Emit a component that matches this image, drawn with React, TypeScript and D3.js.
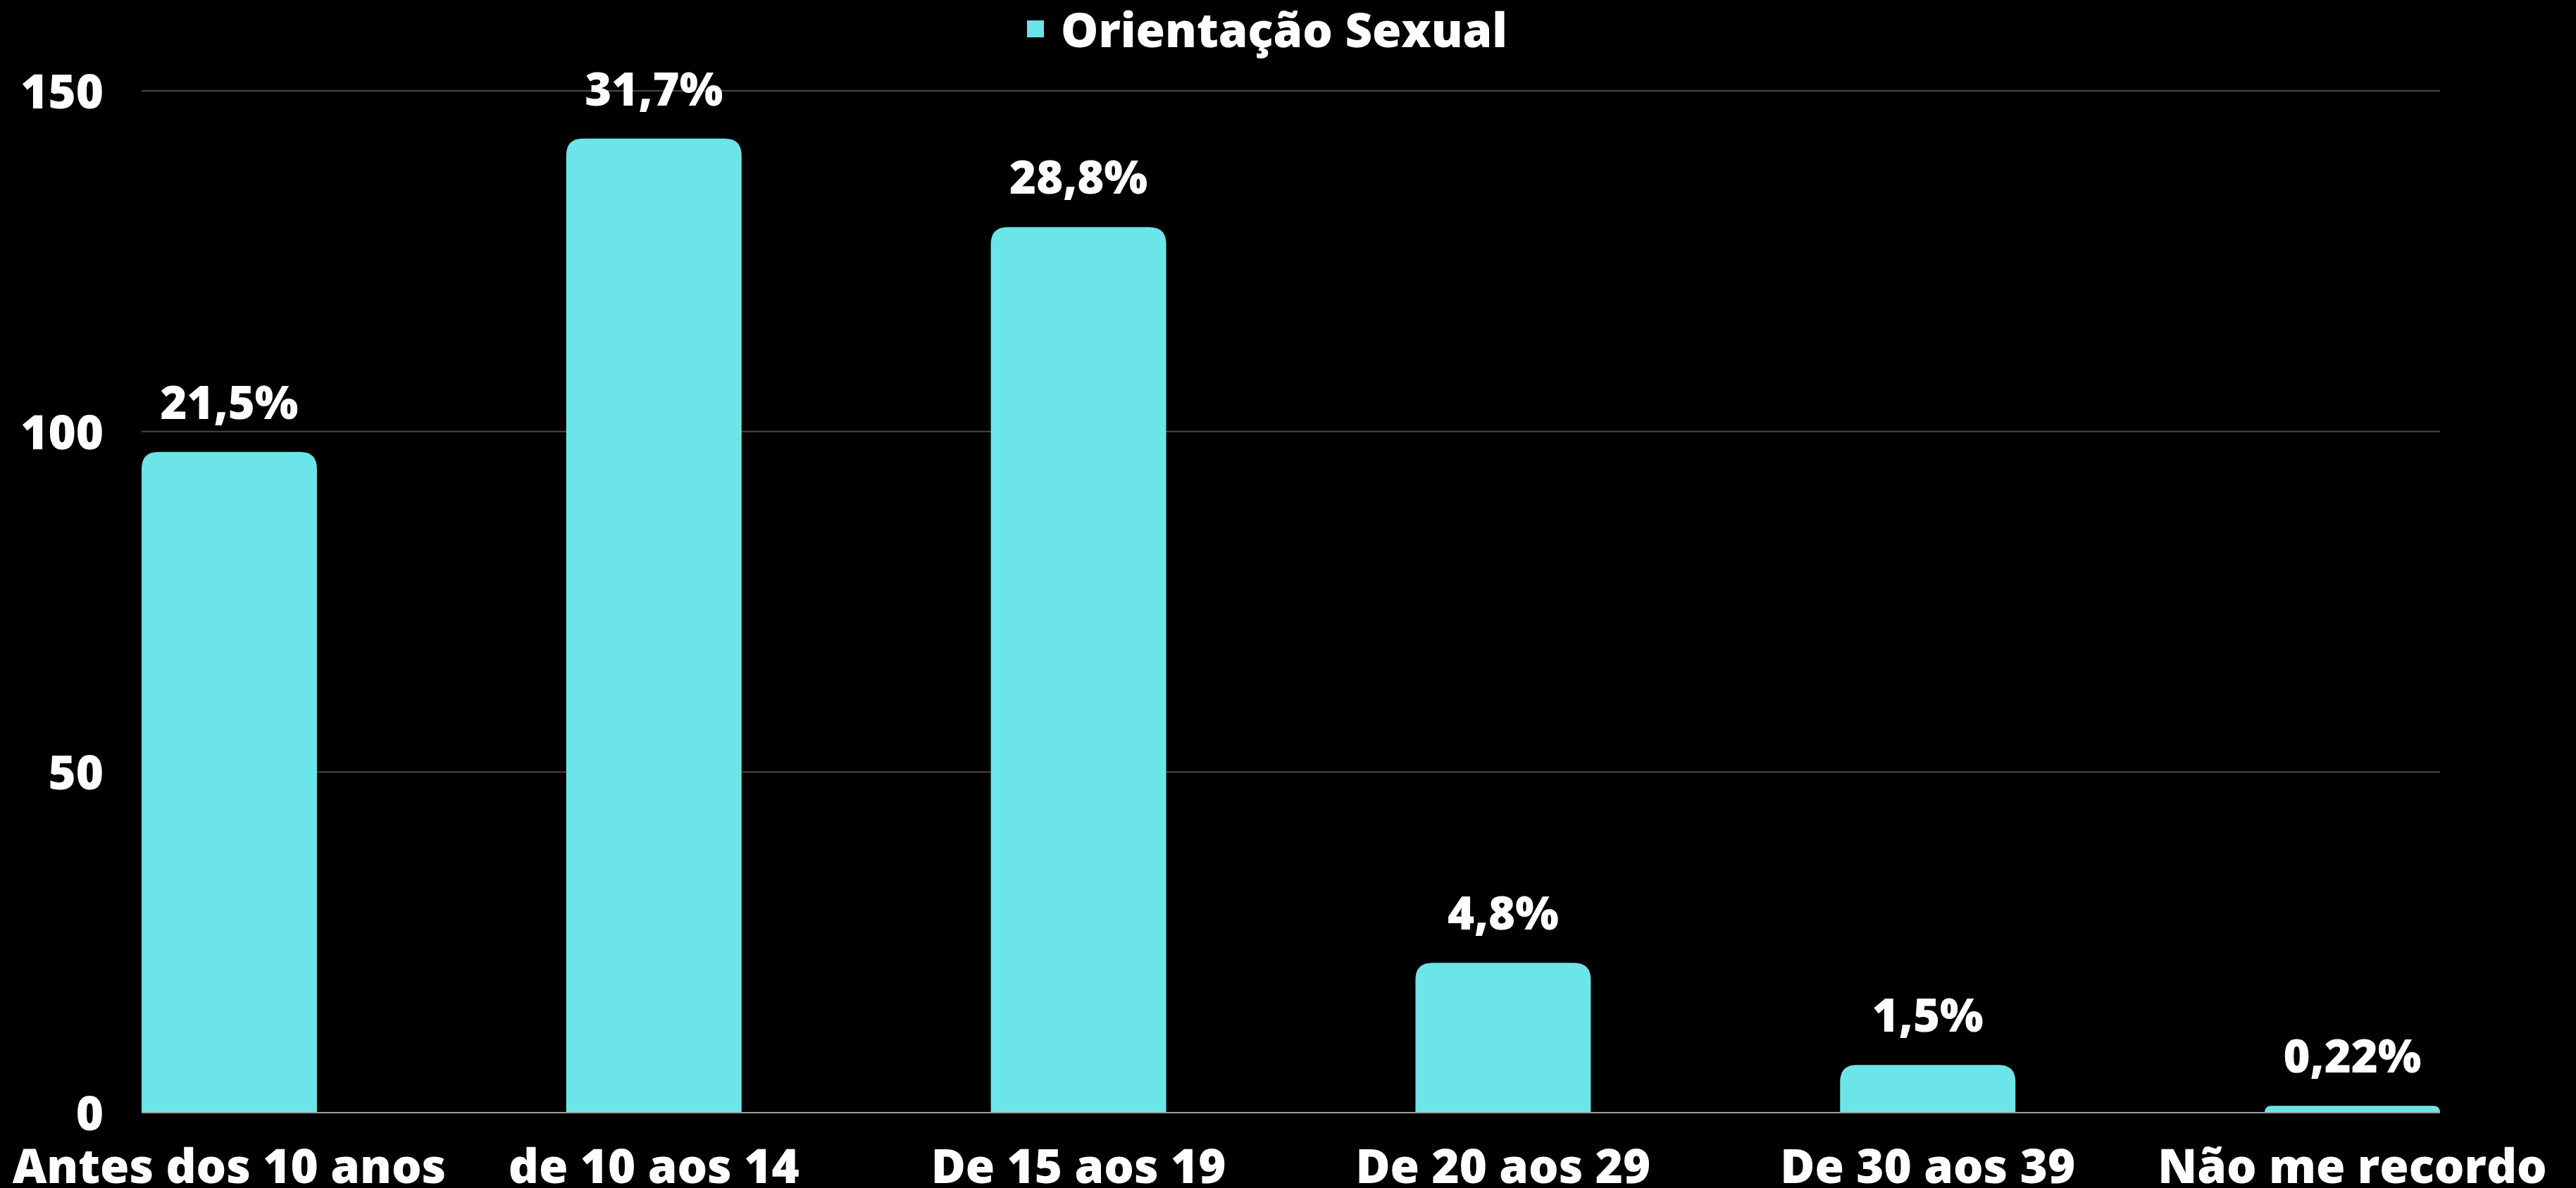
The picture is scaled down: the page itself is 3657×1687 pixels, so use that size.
import React from "react";
import * as d3 from "d3";

const categories = ["Antes dos 10 anos", "de 10 aos 14", "De 15 aos 19", "De 20 aos 29", "De 30 aos 39", "Não me recordo"];
const counts = [97, 143, 130, 22, 7, 1];
const percentLabels = ["21,5%", "31,7%", "28,8%", "4,8%", "1,5%", "0,22%"];
const yTicks = [0, 50, 100, 150];
const seriesName = "Orientação Sexual";

const W = 3657;
const H = 1687;
const FONT = "'Open Sans', 'Noto Sans', sans-serif";
const BAR_COLOR = "#6ce5e8";

function topRoundedBar(x: number, y: number, w: number, h: number, r: number) {
  const rr = Math.min(r, h, w / 2);
  const p = d3.path();
  p.moveTo(x, y + h);
  p.lineTo(x, y + rr);
  p.quadraticCurveTo(x, y, x + rr, y);
  p.lineTo(x + w - rr, y);
  p.quadraticCurveTo(x + w, y, x + w, y + rr);
  p.lineTo(x + w, y + h);
  p.closePath();
  return p.toString();
}

export default function App() {
  const x = d3.scaleBand<string>().domain(categories).range([201, 3464]).paddingInner(0.587).paddingOuter(0);
  const y = d3.scaleLinear().domain([0, 150]).range([1580, 129]);
  const bw = x.bandwidth();

  return (
    <div>
      <style>{`body{margin:0;background:#000;}`}</style>
      <svg width={W} height={H} style={{ display: "block", background: "#000" }} fontFamily={FONT} fontWeight={800}>
        <rect x={0} y={0} width={W} height={H} fill="#000" />
        {yTicks.filter((t) => t !== 0).map((t) => (
          <line key={"g" + t} x1={201} x2={3464} y1={y(t)} y2={y(t)} stroke="#474747" strokeWidth={2} />
        ))}
        {yTicks.map((t) => (
          <text key={"yt" + t} x={147} y={y(t) + 25} textAnchor="end" fill="#fff" fontSize={67}>
            {t}
          </text>
        ))}
        {categories.map((c, i) => {
          const bx = x(c)!;
          const by = y(counts[i]);
          return <path key={"b" + c} d={topRoundedBar(bx, by, bw, y(0) - by, 24)} fill={BAR_COLOR} />;
        })}
        <line x1={201} x2={3464} y1={y(0)} y2={y(0)} stroke="#9e9e9e" strokeWidth={2} />
        {categories.map((c, i) => (
          <text key={"v" + c} x={x(c)! + bw / 2} y={y(counts[i]) - 47} textAnchor="middle" fill="#fff" fontSize={65}>
            {percentLabels[i]}
          </text>
        ))}
        {categories.map((c) => (
          <text key={"x" + c} x={x(c)! + bw / 2} y={1680} textAnchor="middle" fill="#fff" fontSize={67}>
            {c}
          </text>
        ))}
        <rect x={1458} y={29} width={24} height={24} fill={BAR_COLOR} />
        <text x={1506} y={67} fill="#fff" fontSize={67}>
          {seriesName}
        </text>
      </svg>
    </div>
  );
}
